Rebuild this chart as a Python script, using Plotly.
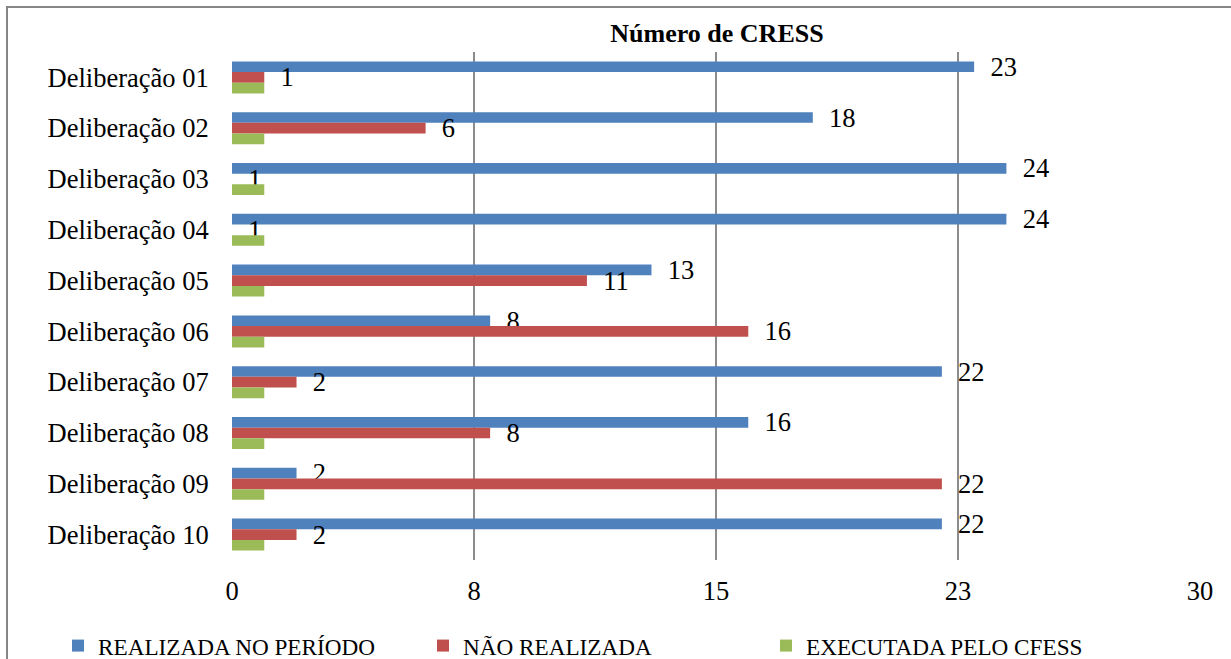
import plotly.graph_objects as go

categories = ["Deliberação 01", "Deliberação 02", "Deliberação 03", "Deliberação 04",
              "Deliberação 05", "Deliberação 06", "Deliberação 07", "Deliberação 08",
              "Deliberação 09", "Deliberação 10"]
realizada = [23, 18, 24, 24, 13, 8, 22, 16, 2, 22]
nao_realizada = [1, 6, 0, 0, 11, 16, 2, 8, 22, 2]
nao_realizada_labels = ["1", "6", "1", "1", "11", "16", "2", "8", "22", "2"]
executada = [1, 1, 1, 1, 1, 1, 1, 1, 1, 1]

series_names = ["REALIZADA NO PERÍODO", "NÃO REALIZADA", "EXECUTADA PELO CFESS"]
colors = ["#4F81BD", "#C0504D", "#9BBB59"]

tick_vals = [0, 7.5, 15, 22.5, 30]
tick_text = ["0", "8", "15", "23", "30"]

FONT = "Liberation Serif, Times New Roman, serif"
FS = 26.5
LFS = 23.2

W, H = 1231, 659
L, R, T, B = 232, 31, 52, 99
pw = W - L - R
ph = H - T - B

def px_x(x):
    return (x - L) / pw

def px_y(y):
    return (H - B - y) / ph

fig = go.Figure()
fig.add_trace(go.Bar(
    y=categories, x=realizada, orientation="h", name=series_names[0],
    marker=dict(color=colors[0], line=dict(width=0)),
    text=[str(v) for v in realizada], texttemplate="  %{text}",
    textposition="outside", cliponaxis=False, constraintext="none",
    textfont=dict(family=FONT, size=FS, color="black"), legend="legend",
))
fig.add_trace(go.Bar(
    y=categories, x=nao_realizada, orientation="h", name=series_names[1],
    marker=dict(color=colors[1], line=dict(width=0)),
    text=nao_realizada_labels, texttemplate="  %{text}",
    textposition="outside", cliponaxis=False, constraintext="none",
    textfont=dict(family=FONT, size=FS, color="black"), legend="legend2",
))
fig.add_trace(go.Bar(
    y=categories, x=executada, orientation="h", name=series_names[2],
    marker=dict(color=colors[2], line=dict(width=0)), legend="legend3",
))

def leg(xpx):
    return dict(orientation="h", x=px_x(xpx - 19), y=px_y(646), xanchor="left", yanchor="middle",
                font=dict(family=FONT, size=LFS, color="black"),
                bgcolor="rgba(0,0,0,0)", borderwidth=0)

fig.update_layout(
    width=W, height=H,
    margin=dict(l=L, r=R, t=T, b=B, autoexpand=False),
    paper_bgcolor="white", plot_bgcolor="white",
    barmode="group", bargap=0.37, bargroupgap=0,
    font=dict(family=FONT, size=FS, color="black"),
    title=dict(text="<b>Número de CRESS</b>", x=px_x(717), xref="paper",
               xanchor="center", y=1 - 33 / H, yanchor="middle", yref="container",
               font=dict(family=FONT, size=26, color="black")),
    showlegend=True,
    legend=leg(77),
    legend2=leg(442),
    legend3=leg(785),
    xaxis=dict(range=[0, 30], tickvals=tick_vals, ticktext=tick_text,
               showgrid=True, gridcolor="#8C8C8C", gridwidth=2,
               zeroline=False, showline=False,
               ticks="outside", ticklen=7, tickcolor="rgba(0,0,0,0)",
               tickfont=dict(family=FONT, size=FS, color="black")),
    yaxis=dict(autorange="reversed", showgrid=False, zeroline=False, showline=False,
               ticks="outside", ticklen=17, tickcolor="rgba(0,0,0,0)",
               tickfont=dict(family=FONT, size=FS, color="black")),
    shapes=[dict(type="rect", xref="paper", yref="paper",
                 x0=px_x(7), x1=px_x(1240), y0=px_y(7), y1=px_y(680),
                 line=dict(color="#868686", width=2), fillcolor="rgba(0,0,0,0)", layer="below")],
)

fig.write_html("out.html", config={"displayModeBar": False},
               post_script="document.body.style.margin='0';document.body.style.overflow='hidden';")
